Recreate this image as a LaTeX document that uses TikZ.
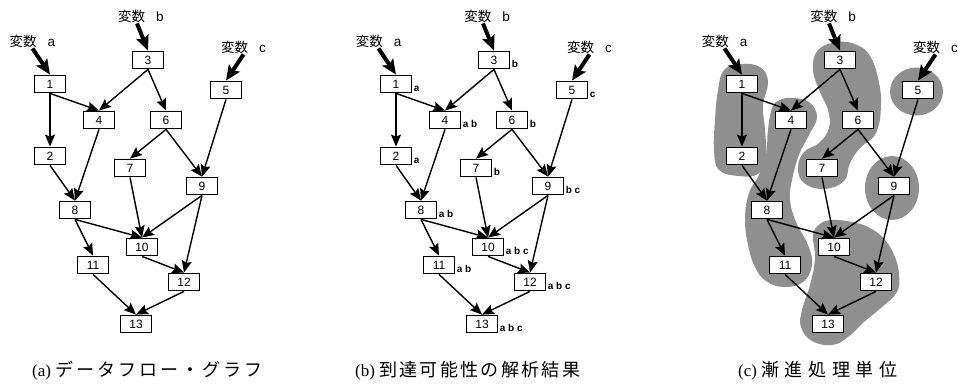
\documentclass[tikz,border=0pt]{standalone}
\usepackage{fontspec}
\setmainfont{Liberation Serif}
\setsansfont{Liberation Sans}
\newfontfamily\jpfont{Noto Sans CJK JP}
\usetikzlibrary{arrows.meta}
\definecolor{UnitGray}{gray}{0.56}

\tikzset{
  opbox/.style={draw, line width=1.3pt, fill=white, minimum width=31pt,
    minimum height=17.5pt, inner sep=0pt, font=\sffamily\fontsize{12}{12}\selectfont},
  flow/.style={line width=1.4pt, -{Stealth[length=12pt,width=10pt,inset=2pt]}},
  inarrow/.style={line width=4pt, -{Stealth[length=15pt,width=13pt,inset=3pt]}},
  varname/.style={inner sep=1pt, font=\fontsize{13.5}{13.5}\selectfont},
  reach/.style={anchor=base west, inner sep=0pt, font=\sffamily\bfseries\fontsize{10}{10}\selectfont},
  unit/.style={fill=UnitGray},
  caption/.style={anchor=west, inner sep=0pt, font=\fontsize{17}{17}\selectfont}
}
\newcommand{\varlabel}[1]{{\jpfont 変数}\hspace{11pt}{\sffamily #1}}
\newcommand{\capjp}[2]{{\jpfont\fontsize{18}{18}\selectfont\addfontfeature{LetterSpace=#1}#2}}

% one data flow graph, #1 = name prefix, #2 = x offset
\newcommand{\flowgraph}[2]{%
  \begin{scope}[shift={(#2,0)}]
    \foreach \n/\x/\y in {1/50/84,2/50/156,3/148/60,4/99/120,5/226/90,6/166/120,
        7/130/168,8/75/210,9/202/186,10/142/247,11/93/265,12/184/282,13/136/324}
      \node[opbox] (#1-\n) at (\x,\y) {\n};
    \node[varname] (#1-va) at (32.5,41) {\varlabel{a}};
    \node[varname] (#1-vb) at (141,16) {\varlabel{b}};
    \node[varname] (#1-vc) at (243.5,47) {\varlabel{c}};
    \draw[inarrow] (#1-va.south) -- (#1-1.north);
    \draw[inarrow] (#1-vb.south) ++(-4,0) -- (#1-3.north);
    \draw[inarrow] (#1-vc.south) -- (#1-5.north);
    \foreach \s/\t in {1/2,1/4,3/4,3/6,5/9,6/7,6/9,2/8,4/8,7/10,9/10,9/12,
        8/10,8/11,10/12,11/13,12/13}
      \draw[flow] (#1-\s.south) -- (#1-\t.north);
  \end{scope}}

\begin{document}
\begin{tikzpicture}[x=1pt,y=-1pt]
  \useasboundingbox (0,0) rectangle (958,383);

  % (a)
  \flowgraph{a}{0}
  \node[caption] (cap-a) at (32,370.5) {(a) \capjp{17}{データフロー・グラフ}};

  % (b)
  \flowgraph{b}{346}
  \foreach \n/\v in {1/a,2/a,3/b,4/a b,5/c,6/b,7/b,8/a b,9/b c,10/a b c,
      11/a b,12/a b c,13/a b c}
    \node[reach] (b-\n-r) at ([shift={(1.5pt,1.5pt)}]b-\n.south east) {\v};
  \node[caption] (cap-b) at (355,370.5) {(b) \capjp{13}{到達可能性の解析結果}};

  % (c) units first, graph on top
  \begin{scope}[shift={(692,0)}]
    \fill[unit] plot[smooth cycle, tension=0.7] coordinates {(48,64) (68,67) (76,82)
      (71,105) (73,130) (74,158) (66,174) (47,176) (27,170) (22,150) (23,120)
      (26,90) (32,70)};
    \fill[unit] plot[smooth cycle, tension=0.7] coordinates {(100,98) (117,102)
      (125,117) (117,135) (107,155) (100,180) (98,200) (104,222) (116,245)
      (120,265) (111,282) (92,287) (74,281) (63,267) (56,245) (53,218) (57,193)
      (67,175) (74,155) (76,130) (80,108) (88,100)};
    \fill[unit] plot[smooth cycle, tension=0.7] coordinates {(146,42) (165,45)
      (178,56) (186,78) (189,105) (184,133) (168,148) (158,163) (152,181)
      (132,189) (112,183) (106,168) (112,152) (127,143) (137,128) (136,110)
      (128,92) (121,70) (126,50)};
    \fill[unit] (224.5,91.5) ellipse [x radius=26.5, y radius=24];
    \fill[unit] (200,188) ellipse [x radius=27, y radius=32];
    \fill[unit] plot[smooth cycle, tension=0.7] coordinates {(140,220) (160,222)
      (178,228) (193,240) (203,257) (207,275) (205,292) (190,307) (172,322)
      (156,337) (140,345) (120,341) (109,327) (110,310) (118,285) (123,258)
      (121,235) (128,224)};
  \end{scope}
  \flowgraph{c}{692}
  \node[caption] (cap-c) at (738,370.5) {(c) \capjp{31}{漸進処理単位}};
\end{tikzpicture}
\end{document}
